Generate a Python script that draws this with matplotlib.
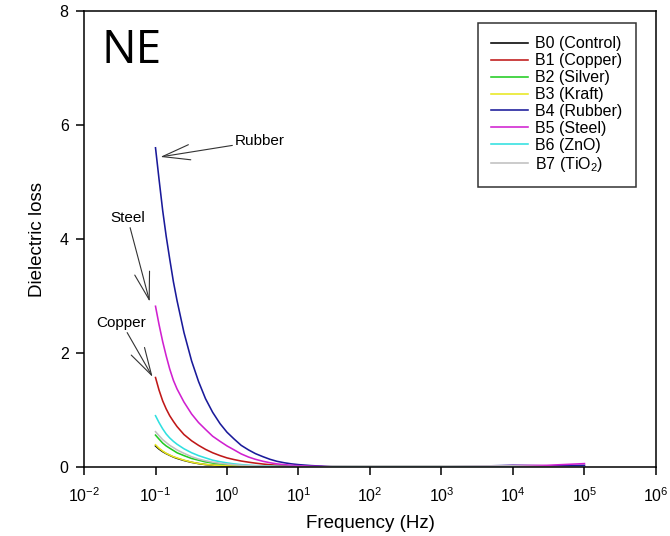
import matplotlib

matplotlib.use("Agg")
import matplotlib.pyplot as plt

plt.rcParams["font.family"] = ["Liberation Sans", "DejaVu Sans"]
plt.rcParams["mathtext.fontset"] = "custom"
plt.rcParams["mathtext.rm"] = "Liberation Sans"
plt.rcParams["mathtext.it"] = "Liberation Sans:italic"
plt.rcParams["mathtext.bf"] = "Liberation Sans:bold"

# frequency grid (Hz) and dielectric loss per sample
freq = [0.1, 0.112, 0.126, 0.141, 0.158, 0.178, 0.2, 0.25, 0.32, 0.4, 0.5,
        0.63, 0.8, 1, 1.26, 1.58, 2, 2.5, 3.2, 4, 5, 6.3, 8, 10, 15, 20, 30,
        50, 100, 1e3, 1e4, 3e4, 1e5]
control = [0.37, 0.315, 0.27, 0.235, 0.205, 0.175, 0.152, 0.115, 0.082,
           0.06, 0.043, 0.032, 0.024, 0.018, 0.014, 0.011, 0.008, 0.006,
           0.0045, 0.0035, 0.0028, 0.002, 0.002, 0.0015, 0.001, 0.001, 0.001,
           0.001, 0.001, 0.001, 0.001, 0.001, 0.001]
copper = [1.57, 1.35, 1.16, 1.02, 0.9, 0.8, 0.71, 0.57, 0.46, 0.38, 0.31,
          0.25, 0.2, 0.16, 0.13, 0.105, 0.085, 0.068, 0.052, 0.04, 0.031,
          0.024, 0.018, 0.014, 0.009, 0.006, 0.004, 0.003, 0.002, 0.001,
          0.002, 0.003, 0.01]
silver = [0.56, 0.49, 0.42, 0.37, 0.33, 0.29, 0.25, 0.2, 0.15, 0.12, 0.09,
          0.07, 0.054, 0.042, 0.033, 0.026, 0.02, 0.016, 0.012, 0.009, 0.007,
          0.005, 0.004, 0.003, 0.002, 0.002, 0.001, 0.001, 0.001, 0.001,
          0.001, 0.001, 0.001]
kraft = [0.39, 0.33, 0.28, 0.24, 0.21, 0.18, 0.16, 0.12, 0.085, 0.062, 0.045,
         0.034, 0.026, 0.02, 0.015, 0.012, 0.009, 0.007, 0.005, 0.004, 0.003,
         0.002, 0.002, 0.002, 0.001, 0.001, 0.001, 0.001, 0.001, 0.001,
         0.001, 0.001, 0.001]
rubber = [5.6, 5.05, 4.5, 4.05, 3.65, 3.25, 2.92, 2.36, 1.86, 1.5, 1.2, 0.96,
          0.76, 0.61, 0.49, 0.38, 0.3, 0.235, 0.18, 0.135, 0.1, 0.075, 0.055,
          0.042, 0.025, 0.017, 0.01, 0.006, 0.003, 0.001, 0.03, 0.02, 0.03]
steel = [2.82, 2.5, 2.2, 1.95, 1.72, 1.52, 1.37, 1.14, 0.93, 0.78, 0.66,
         0.54, 0.45, 0.37, 0.3, 0.23, 0.175, 0.135, 0.1, 0.075, 0.055, 0.042,
         0.031, 0.024, 0.014, 0.01, 0.006, 0.004, 0.002, 0.001, 0.025, 0.03,
         0.06]
zno = [0.9, 0.78, 0.67, 0.58, 0.51, 0.45, 0.4, 0.32, 0.25, 0.2, 0.16, 0.12,
       0.093, 0.072, 0.055, 0.042, 0.032, 0.025, 0.019, 0.015, 0.012, 0.009,
       0.007, 0.006, 0.004, 0.003, 0.002, 0.002, 0.001, 0.001, 0.002, 0.002,
       0.003]
tio2 = [0.62, 0.55, 0.48, 0.43, 0.38, 0.34, 0.3, 0.24, 0.18, 0.14, 0.11,
        0.085, 0.066, 0.052, 0.04, 0.031, 0.024, 0.019, 0.014, 0.011, 0.009,
        0.007, 0.005, 0.004, 0.003, 0.002, 0.02, 0.02, 0.02, 0.02, 0.02,
        0.005, 0.002]

labels = ["B0 (Control)", "B1 (Copper)", "B2 (Silver)", "B3 (Kraft)",
          "B4 (Rubber)", "B5 (Steel)", "B6 (ZnO)", "B7 (TiO$_2$)"]
series = [control, copper, silver, kraft, rubber, steel, zno, tio2]
colors = ["#000000", "#c01818", "#22cc22", "#e8e820",
          "#1a1a9a", "#d020d0", "#30e0e0", "#c0c0c0"]

x_ticks = [1e-2, 1e-1, 1e0, 1e1, 1e2, 1e3, 1e4, 1e5, 1e6]
x_ticklabels = ["10$^{-2}$", "10$^{-1}$", "10$^{0}$", "10$^{1}$", "10$^{2}$",
                "10$^{3}$", "10$^{4}$", "10$^{5}$", "10$^{6}$"]
y_ticks = [0, 2, 4, 6, 8]

fig = plt.figure(figsize=(6.7, 5.36), dpi=100)
ax = fig.add_axes([0.1254, 0.1287, 0.8536, 0.8508])

for vals, lab, col in zip(series, labels, colors):
    ax.plot(freq, vals, color=col, lw=1.15, label=lab)

ax.set_xscale("log")
ax.set_xlim(1e-2, 1e6)
ax.set_ylim(0, 8)
ax.set_xticks(x_ticks)
ax.set_xticklabels(x_ticklabels)
ax.minorticks_off()
ax.set_yticks(y_ticks)
ax.tick_params(direction="out", length=6, width=1.1, labelsize=11.5,
               top=False, right=False)
ax.tick_params(axis="x", pad=8)
ax.tick_params(axis="y", pad=5)
for sp in ax.spines.values():
    sp.set_linewidth(1.1)

ax.set_xlabel("Frequency (Hz)", fontsize=13.5, labelpad=7)
ax.set_ylabel("Dielectric loss", fontsize=13.5, labelpad=10)

ax.text(0.03, 0.962, "NE", transform=ax.transAxes, fontsize=33,
        family="Open Sans", ha="left", va="top")

arrow = dict(arrowstyle="->,head_length=1.8,head_width=0.5",
             color="#333333", lw=0.8, shrinkA=0, shrinkB=0)
ax.annotate("Rubber", xy=(0.117, 5.44), xytext=(1.3, 5.72), fontsize=11,
            ha="left", va="center", arrowprops=arrow)
ax.annotate("Steel", xy=(0.083, 2.9), xytext=(0.0406, 4.37), fontsize=11,
            ha="center", va="center", arrowprops=arrow)
ax.annotate("Copper", xy=(0.091, 1.58), xytext=(0.0335, 2.53), fontsize=11,
            ha="center", va="center", arrowprops=arrow)

leg = ax.legend(loc="upper right", bbox_to_anchor=(0.965, 0.974),
                borderaxespad=0, fontsize=11.5, frameon=True, fancybox=False,
                edgecolor="black", handlelength=2.3, handletextpad=0.45,
                labelspacing=0.12, borderpad=0.85)
leg.get_frame().set_linewidth(1.1)

fig.savefig("out.png", dpi=100)
